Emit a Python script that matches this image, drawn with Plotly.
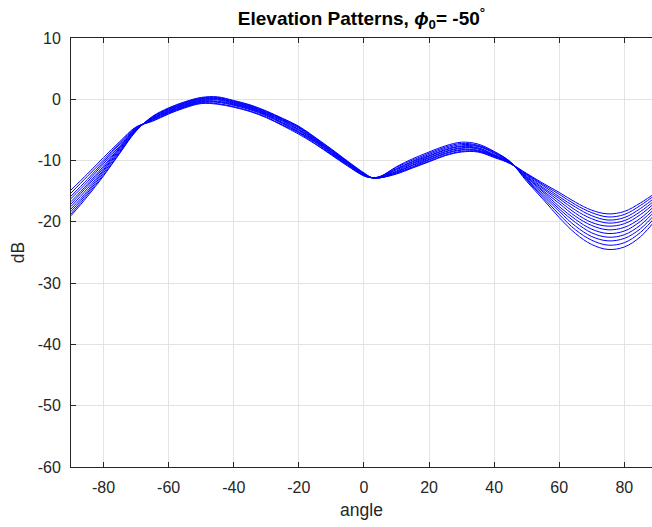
import plotly.graph_objects as go

angles = [-90, -85, -80, -75, -70, -65, -60, -55, -50, -45, -40, -35, -30, -25, -20, -15, -10, -5,
          0, 2.5, 5, 10, 15, 20, 25, 30, 35, 40, 45, 50, 55, 60, 65, 70, 75, 80, 85, 90]

pattern_01 = [-19.0,-15.9,-12.5,-8.8,-5.2,-2.8,-1.4,-0.4,0.3,0.4, -0.2,-0.9,-1.9,-3.1,-4.4,-6.2,-8.1,-10.1,-12.0,-12.8,-12.8, -12.2,-11.2,-10.2,-9.2,-8.6,-8.6,-9.5,-10.5,-12.1,-13.7, -15.2,-16.8,-18.1,-18.7,-18.3,-16.9,-15.1]
pattern_02 = [-18.7,-15.6,-12.3,-8.7,-5.1,-2.9,-1.5,-0.5,0.2,0.3, -0.3,-1.0,-2.0,-3.2,-4.5,-6.3,-8.2,-10.2,-12.1,-12.8,-12.8, -12.1,-11.1,-10.1,-9.1,-8.5,-8.5,-9.4,-10.5,-12.2,-13.9, -15.5,-17.2,-18.5,-19.2,-18.8,-17.3,-15.4]
pattern_03 = [-18.3,-15.3,-12.0,-8.5,-5.1,-2.9,-1.6,-0.6,0.1,0.2, -0.4,-1.1,-2.1,-3.3,-4.6,-6.4,-8.3,-10.2,-12.1,-12.8,-12.8, -12.0,-11.0,-9.9,-8.9,-8.3,-8.4,-9.3,-10.5,-12.3,-14.1, -15.9,-17.6,-19.0,-19.7,-19.3,-17.8,-15.8]
pattern_04 = [-17.9,-15.0,-11.7,-8.3,-5.0,-3.0,-1.7,-0.7,0.0,0.1, -0.5,-1.2,-2.2,-3.4,-4.7,-6.5,-8.4,-10.3,-12.2,-12.8,-12.8, -11.9,-10.8,-9.8,-8.8,-8.2,-8.3,-9.2,-10.4,-12.4,-14.4, -16.2,-18.1,-19.5,-20.2,-19.8,-18.3,-16.2]
pattern_05 = [-17.5,-14.6,-11.5,-8.1,-5.0,-3.1,-1.8,-0.8,-0.1,0.0, -0.6,-1.3,-2.3,-3.5,-4.9,-6.6,-8.5,-10.4,-12.2,-12.8,-12.7, -11.8,-10.7,-9.6,-8.6,-8.0,-8.1,-9.2,-10.4,-12.6,-14.6, -16.6,-18.6,-20.1,-20.7,-20.3,-18.8,-16.6]
pattern_06 = [-17.1,-14.2,-11.2,-7.9,-4.9,-3.2,-1.9,-0.9,-0.2,-0.1, -0.7,-1.4,-2.4,-3.6,-5.0,-6.7,-8.6,-10.5,-12.3,-12.8,-12.7, -11.7,-10.5,-9.5,-8.5,-7.9,-8.0,-9.1,-10.4,-12.7,-14.9, -17.0,-19.1,-20.6,-21.3,-20.9,-19.4,-17.0]
pattern_07 = [-16.7,-13.9,-10.9,-7.8,-4.8,-3.2,-2.0,-1.0,-0.3,-0.3, -0.8,-1.5,-2.5,-3.8,-5.1,-6.8,-8.7,-10.5,-12.3,-12.8,-12.7, -11.5,-10.4,-9.3,-8.3,-7.7,-7.9,-9.0,-10.3,-12.8,-15.1, -17.5,-19.6,-21.2,-21.9,-21.5,-19.9,-17.5]
pattern_08 = [-16.2,-13.5,-10.5,-7.6,-4.7,-3.3,-2.1,-1.1,-0.4,-0.4, -0.9,-1.6,-2.6,-3.9,-5.3,-6.9,-8.8,-10.6,-12.4,-12.8,-12.7, -11.4,-10.2,-9.2,-8.2,-7.6,-7.7,-8.8,-10.3,-13.0,-15.4, -17.9,-20.1,-21.8,-22.5,-22.1,-20.5,-17.9]
pattern_09 = [-15.8,-13.1,-10.2,-7.3,-4.7,-3.4,-2.2,-1.2,-0.5,-0.5, -1.0,-1.7,-2.7,-4.0,-5.4,-7.0,-8.9,-10.7,-12.4,-12.8,-12.6, -11.3,-10.1,-9.0,-8.0,-7.4,-7.6,-8.7,-10.3,-13.1,-15.7, -18.3,-20.7,-22.4,-23.1,-22.7,-21.1,-18.4]
pattern_10 = [-15.3,-12.6,-9.9,-7.1,-4.6,-3.5,-2.3,-1.3,-0.6,-0.7, -1.2,-1.9,-2.9,-4.2,-5.5,-7.2,-9.0,-10.8,-12.5,-12.8,-12.6, -11.1,-9.9,-8.8,-7.8,-7.2,-7.5,-8.6,-10.2,-13.2,-16.0, -18.8,-21.3,-23.0,-23.8,-23.4,-21.7,-18.9]
pattern_11 = [-14.8,-12.2,-9.5,-6.9,-4.5,-3.6,-2.4,-1.4,-0.7,-0.8, -1.3,-2.0,-3.0,-4.3,-5.7,-7.3,-9.1,-10.9,-12.5,-12.8,-12.6, -11.0,-9.7,-8.6,-7.6,-7.0,-7.3,-8.5,-10.2,-13.4,-16.3, -19.3,-21.9,-23.7,-24.5,-24.1,-22.4,-19.4]

patterns = [pattern_01, pattern_02, pattern_03, pattern_04, pattern_05, pattern_06,
            pattern_07, pattern_08, pattern_09, pattern_10, pattern_11]

x_ticks = [-80, -60, -40, -20, 0, 20, 40, 60, 80]
x_tick_labels = ["-80", "-60", "-40", "-20", "0", "20", "40", "60", "80"]
y_ticks = [-60, -50, -40, -30, -20, -10, 0, 10]
y_tick_labels = ["-60", "-50", "-40", "-30", "-20", "-10", "0", "10"]

fig = go.Figure()
for p in patterns:
    fig.add_trace(go.Scatter(x=angles, y=p, mode="lines",
                             line=dict(color="rgb(0,0,255)", width=1, shape="spline", smoothing=1.0),
                             showlegend=False, hoverinfo="skip"))

FAM = "Liberation Sans, Arial, Helvetica, sans-serif"
tick_font = dict(family=FAM, size=16, color="#262626")
label_font = dict(family=FAM, size=17.5, color="#262626")
fig.update_layout(
    width=652, height=527,
    margin=dict(l=71, r=0, t=38, b=60),
    paper_bgcolor="white", plot_bgcolor="white",
    title=dict(text="<b>Elevation Patterns, <i>ϕ</i><sub>0</sub>= -50<sup>°</sup></b>",
               x=0.5, xref="paper", xanchor="center", y=1 - 18 / 527, yref="container",
               yanchor="middle",
               font=dict(family=FAM, size=19, color="black")),
    font=tick_font,
)
fig.update_xaxes(range=[-90, 88.5], tickvals=x_ticks, ticktext=x_tick_labels,
                 ticks="inside", ticklen=5, tickcolor="#262626", ticklabelstandoff=6,
                 showline=True, linecolor="#262626", linewidth=1, mirror="ticks",
                 showgrid=True, gridcolor="#e3e3e3", gridwidth=1, zeroline=False,
                 title=dict(text="angle", font=label_font, standoff=8), tickfont=tick_font)
fig.update_yaxes(range=[-60, 10], tickvals=y_ticks, ticktext=y_tick_labels,
                 ticks="inside", ticklen=5, tickcolor="#262626", ticklabelstandoff=6,
                 showline=True, linecolor="#262626", linewidth=1, mirror=False,
                 showgrid=True, gridcolor="#e3e3e3", gridwidth=1, zeroline=False,
                 title=dict(text="dB", font=label_font, standoff=8), tickfont=tick_font)

fig.write_html("out.html")
